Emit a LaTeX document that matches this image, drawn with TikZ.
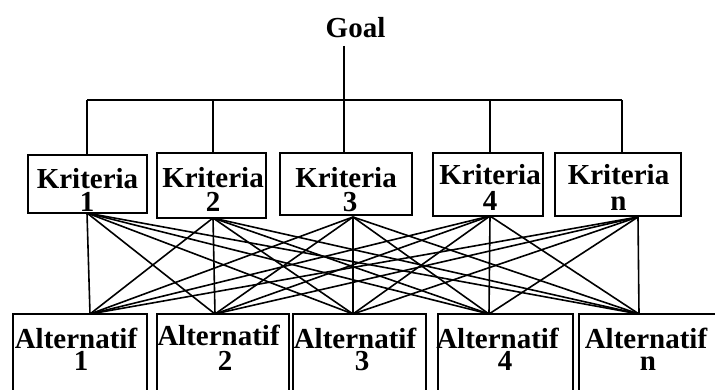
\documentclass[tikz,border=0pt]{standalone}
\usepackage{fontspec}
\setmainfont{Liberation Serif}
\begin{document}
\begin{tikzpicture}[x=1pt,y=-1pt,line width=1.6pt,
  box/.style={draw,inner sep=0pt},
  lbl/.style={anchor=base,inner sep=0pt,font=\fontsize{29}{29}\selectfont\bfseries}]
\clip (0,0) rectangle (715,390);
% criteria boxes
\node[box,minimum width=119pt,minimum height=58pt] (k1) at (87.5,184) {};
\node[box,minimum width=109pt,minimum height=65pt] (k2) at (211.5,185.5) {};
\node[box,minimum width=132pt,minimum height=62pt] (k3) at (346,184) {};
\node[box,minimum width=110pt,minimum height=63pt] (k4) at (488,184.5) {};
\node[box,minimum width=126pt,minimum height=63pt] (k5) at (618,184.5) {};
% alternative boxes
\node[box,minimum width=134pt,minimum height=100pt] (a1) at (80,364) {};
\node[box,minimum width=132pt,minimum height=100pt] (a2) at (223,364) {};
\node[box,minimum width=133pt,minimum height=100pt] (a3) at (359.5,364) {};
\node[box,minimum width=135pt,minimum height=100pt] (a4) at (505.5,364) {};
\node[box,minimum width=141pt,minimum height=100pt] (a5) at (649.5,364) {};
% labels
\node[lbl] (goal) at (355.5,38) {Goal};
\node[lbl] (k1t) at (87.5,189) {Kriteria};
\node[lbl] (k1n) at (87,212) {1};
\node[lbl] (k2t) at (213,188) {Kriteria};
\node[lbl] (k2n) at (213,212) {2};
\node[lbl] (k3t) at (346,188) {Kriteria};
\node[lbl] (k3n) at (350,212) {3};
\node[lbl] (k4t) at (490,185) {Kriteria};
\node[lbl] (k4n) at (490,211) {4};
\node[lbl] (k5t) at (618.5,185) {Kriteria};
\node[lbl] (k5n) at (618.5,211) {n};
\node[lbl] (a1t) at (76,348) {Alternatif};
\node[lbl] (a1n) at (81,370) {1};
\node[lbl] (a2t) at (218.5,345) {Alternatif};
\node[lbl] (a2n) at (225,370) {2};
\node[lbl] (a3t) at (355,348) {Alternatif};
\node[lbl] (a3n) at (362,370) {3};
\node[lbl] (a4t) at (497.5,348) {Alternatif};
\node[lbl] (a4n) at (505,370) {4};
\node[lbl] (a5t) at (646,348) {Alternatif};
\node[lbl] (a5n) at (648,370) {n};
% tree from goal
\coordinate (g) at (344,46);
\coordinate (h1) at (87,100);
\coordinate (h2) at (213,100);
\coordinate (h4) at (490,100);
\coordinate (h5) at (622,100);
\draw (g) -- (g |- k3.north);
\draw (h1) -- (h5);
\draw (h1) -- (h1 |- k1.north);
\draw (h2) -- (h2 |- k2.north);
\draw (h4) -- (h4 |- k4.north);
\draw (h5) -- (h5 |- k5.north);
% connection points
\coordinate (kb1) at (87,213);
\coordinate (kb2) at (213,218);
\coordinate (kb3) at (353,217);
\coordinate (kb4) at (490,216);
\coordinate (kb5) at (638,217);
\coordinate (at1) at (90,314);
\coordinate (at2) at (215,314);
\coordinate (at3) at (353,314);
\coordinate (at4) at (489,314);
\coordinate (at5) at (639,314);
\foreach \i in {1,...,5}{
  \foreach \j in {1,...,5}{
    \draw (kb\i) -- (at\j);
  }
}
\end{tikzpicture}
\end{document}
